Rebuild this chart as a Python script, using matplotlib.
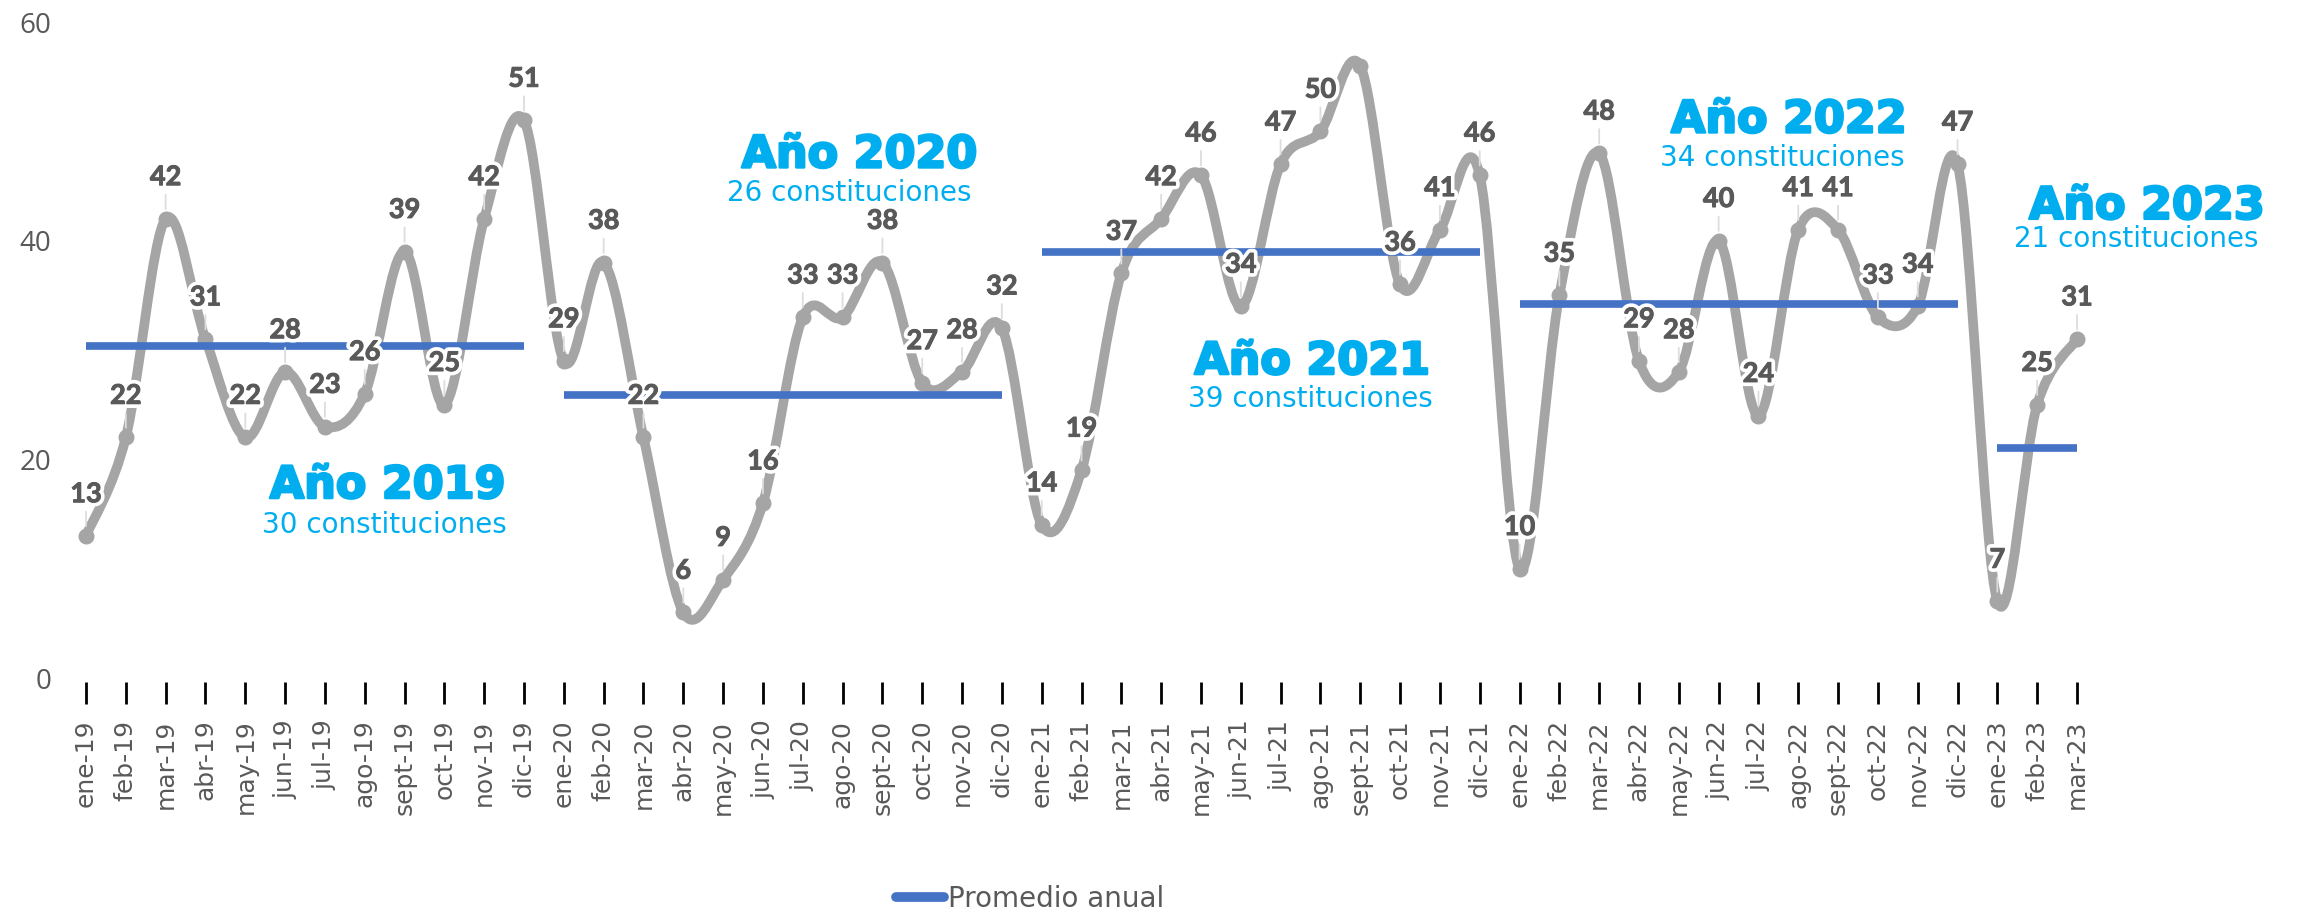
import matplotlib.pyplot as plt
import matplotlib.patheffects as pe
from matplotlib.path import Path
from matplotlib.patches import PathPatch
from matplotlib.lines import Line2D
import numpy as np

# Datos mensuales (constituciones por mes)
meses = ['ene', 'feb', 'mar', 'abr', 'may', 'jun', 'jul', 'ago', 'sept', 'oct', 'nov', 'dic']
anios = ['19', '20', '21', '22', '23']
v2019 = [13, 22, 42, 31, 22, 28, 23, 26, 39, 25, 42, 51]
v2020 = [29, 38, 22, 6, 9, 16, 33, 33, 38, 27, 28, 32]
v2021 = [14, 19, 37, 42, 46, 34, 47, 50, 56, 36, 41, 46]
v2022 = [10, 35, 48, 29, 28, 40, 24, 41, 41, 33, 34, 47]
v2023 = [7, 25, 31]
sin_etiqueta = ['sept-21']

titulos = ['Año 2019', 'Año 2020', 'Año 2021', 'Año 2022', 'Año 2023']
subtitulos = ['30 constituciones', '26 constituciones', '39 constituciones',
              '34 constituciones', '21 constituciones']

por_anio = [v2019, v2020, v2021, v2022, v2023]
valores = np.array(sum(por_anio, []))
etiquetas = [f'{m}-{a}' for a, v in zip(anios, por_anio) for m in meses[:len(v)]]
x = np.arange(len(valores))

GRIS = '#A5A5A5'
AZUL = '#4472C4'
CIAN = '#00AEEF'
TEXTO = '#595959'


def curva_suave(xs, ys):
    """Bezier tipo Catmull-Rom, como el suavizado de Excel."""
    n = len(xs)
    verts = [(xs[0], ys[0])]
    codes = [Path.MOVETO]
    for i in range(n - 1):
        xa, ya = (xs[i - 1], ys[i - 1]) if i > 0 else (xs[i], ys[i])
        xb, yb = (xs[i + 2], ys[i + 2]) if i + 2 < n else (xs[i + 1], ys[i + 1])
        c1 = (xs[i] + (xs[i + 1] - xa) / 6, ys[i] + (ys[i + 1] - ya) / 6)
        c2 = (xs[i + 1] - (xb - xs[i]) / 6, ys[i + 1] - (yb - ys[i]) / 6)
        verts += [c1, c2, (xs[i + 1], ys[i + 1])]
        codes += [Path.CURVE4] * 3
    return Path(verts, codes)


plt.rcParams['font.family'] = ['DejaVu Sans']
fig = plt.figure(figsize=(23.05, 9.14), dpi=100)
ax = fig.add_axes([70 / 2305, 0.2582, 2220 / 2305, 0.7177])
paso = 39.82
ax.set_xlim(-16 / paso, -16 / paso + 2220 / paso)
ax.set_ylim(0, 60)

# serie mensual suavizada
ax.add_patch(PathPatch(curva_suave(x, valores), facecolor='none', edgecolor=GRIS,
                       lw=7, capstyle='round', joinstyle='round', zorder=2, clip_on=False))
ax.plot(x, valores, 'o', color=GRIS, ms=10.5, zorder=3, clip_on=False)

# promedio anual
inicio = 0
for v in por_anio:
    fin = inicio + len(v) - 1
    ax.plot([inicio, fin], [np.mean(v)] * 2, color=AZUL, lw=5.5,
            solid_capstyle='butt', zorder=4)
    inicio = fin + 1

# etiquetas de datos
efecto = [pe.Stroke(linewidth=6, foreground='white'),
          pe.Stroke(linewidth=0.7, foreground=TEXTO), pe.Normal()]
for i, v in enumerate(valores):
    if etiquetas[i] in sin_etiqueta:
        continue
    ax.annotate(str(v), (i, v), xytext=(0, 30), textcoords='offset points',
                ha='center', va='center', fontsize=19.5, fontweight='bold',
                family='Lato', color=TEXTO, zorder=6, path_effects=efecto,
                arrowprops=dict(arrowstyle='-', color='#DDDDDD', lw=1.3,
                                shrinkA=2, shrinkB=7))

# textos por año
pos_titulo = [(7.58, 16.46), (19.43, 46.7), (30.8, 27.8), (42.77, 49.9), (51.76, 42.0)]
pos_sub = [(7.5, 13.26), (19.17, 43.6), (30.74, 24.8), (42.6, 46.8), (51.48, 39.4)]
for t, s, (tx, ty), (sx, sy) in zip(titulos, subtitulos, pos_titulo, pos_sub):
    ax.text(tx, ty, t, ha='center', va='baseline', fontsize=32, fontweight='bold',
            color=CIAN, zorder=7,
            path_effects=[pe.withStroke(linewidth=1.8, foreground=CIAN)])
    ax.text(sx, sy, s, ha='center', va='baseline', fontsize=20, color=CIAN, zorder=7)

# ejes
for lado in ['top', 'right', 'left', 'bottom']:
    ax.spines[lado].set_visible(False)
ax.spines['bottom'].set_position(('outward', 3))
ax.set_xticks(x)
ax.set_xticklabels(etiquetas, rotation=90, fontsize=18, color=TEXTO)
ax.tick_params(axis='x', length=16, width=2, color='black', pad=11)
ax.set_yticks([0, 20, 40, 60])
ax.set_yticklabels(['0', '20', '40', '60'], fontsize=20, color=TEXTO, family='Open Sans')
ax.tick_params(axis='y', length=0, pad=13.5)

leyenda = [Line2D([0], [0], color=AZUL, lw=7, solid_capstyle='round')]
fig.legend(leyenda, ['Promedio anual'], loc='center', bbox_to_anchor=(0.4469, 0.0164),
           frameon=False, handlelength=1.75, handletextpad=0.15, borderpad=0,
           prop={'family': 'DejaVu Sans', 'size': 20}, labelcolor=TEXTO)

fig.savefig('out.png', dpi=100)
